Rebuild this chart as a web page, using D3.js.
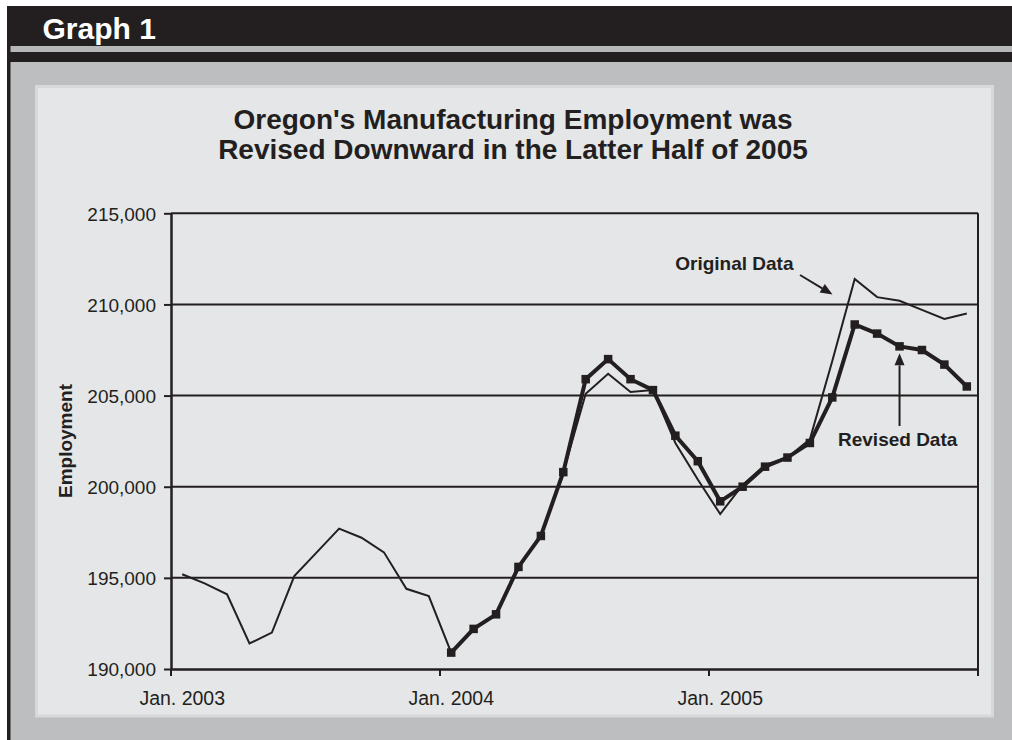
<!DOCTYPE html>
<html>
<head>
<meta charset="utf-8">
<script src="https://cdn.jsdelivr.net/npm/d3@7/dist/d3.min.js"></script>
<style>
  html, body { margin: 0; padding: 0; background: #ffffff; }
  svg { display: block; }
  text { font-family: "Liberation Sans", Arial, Helvetica, sans-serif; fill: #231f20; }
</style>
</head>
<body>
<svg id="chart" width="1012" height="740"></svg>
<script>
// Oregon manufacturing employment, monthly, Jan. 2003 – Dec. 2005
const originalData = [
  195200, 194700, 194100, 191400, 192000, 195100, 196400, 197700, 197200, 196400, 194400, 194000,
  190900, 192200, 193000, 195600, 197300, 200800, 205100, 206200, 205200, 205300, 202400, 200400,
  198500, 200100, 201200, 201600, 202600, 206900, 211400, 210400, 210200, 209700, 209200, 209500
];
// Revised series starts in Jan. 2004
const revisedStart = 12;
const revisedData = [
  190900, 192200, 193000, 195600, 197300, 200800, 205900, 207000, 205900, 205300, 202800, 201400,
  199200, 200000, 201100, 201600, 202400, 204900, 208900, 208400, 207700, 207500, 206700, 205500
];
const yTicks = [190000, 195000, 200000, 205000, 210000, 215000];
const titleLines = [
  "Oregon's Manufacturing Employment was",
  "Revised Downward in the Latter Half of 2005"
];

const ink = "#231f20";
const svg = d3.select("#chart");

// ---- page frame ----
svg.append("rect").attr("x", 7).attr("y", 6).attr("width", 1005).attr("height", 734).attr("fill", "#bdbec0");
svg.append("rect").attr("x", 7).attr("y", 6).attr("width", 1005).attr("height", 40).attr("fill", ink);
svg.append("rect").attr("x", 7).attr("y", 46).attr("width", 1005).attr("height", 6).attr("fill", "#b6b7b9");
svg.append("rect").attr("x", 7).attr("y", 52).attr("width", 1005).attr("height", 10).attr("fill", ink);
svg.append("rect").attr("x", 7).attr("y", 6).attr("width", 3.5).attr("height", 734).attr("fill", ink);
svg.append("text").attr("x", 42.5).attr("y", 39)
  .style("font-size", "30px").style("font-weight", "bold").style("fill", "#ffffff")
  .text("Graph 1");

// inner chart panel
svg.append("rect").attr("x", 36.5).attr("y", 86.5).attr("width", 956).attr("height", 629.5)
  .attr("fill", "#e5e6e7").attr("stroke", "#d7d8da").attr("stroke-width", 3);

// ---- title ----
svg.append("g").selectAll("text").data(titleLines).join("text")
  .attr("x", 513).attr("y", (d, i) => 128.5 + i * 30.8)
  .attr("text-anchor", "middle")
  .style("font-size", "28px").style("font-weight", "bold")
  .text(d => d);

// ---- scales ----
const months = d3.timeMonth.range(new Date(2003, 0, 1), new Date(2006, 0, 1));
const x = d3.scaleBand().domain(months).range([171, 978]).padding(0);
const cx = d => x(d) + x.bandwidth() / 2;
const y = d3.scaleLinear().domain([190000, 215000]).range([669, 213.3]);

const g = svg.append("g");

// horizontal gridlines
g.append("g").selectAll("line").data(yTicks.filter(v => v !== 190000)).join("line")
  .attr("x1", 171).attr("x2", 978)
  .attr("y1", d => y(d)).attr("y2", d => y(d))
  .attr("stroke", ink).attr("stroke-width", 2);

// right border of plot area
g.append("line").attr("x1", 978).attr("x2", 978).attr("y1", y(215000)).attr("y2", y(190000))
  .attr("stroke", ink).attr("stroke-width", 2);

// y axis
const yAxis = g.append("g").attr("transform", "translate(171,0)")
  .call(d3.axisLeft(y).tickValues(yTicks).tickFormat(d3.format(",")).tickSize(7).tickSizeOuter(0).tickPadding(8));
yAxis.select(".domain").attr("stroke", ink).attr("stroke-width", 2.5);
yAxis.selectAll(".tick line").attr("stroke", ink).attr("stroke-width", 2);
yAxis.selectAll(".tick text").style("font-size", "19px").attr("font-family", null).attr("dy", "0.36em").style("fill", ink);

// x axis: labels centred on January, tick marks on year boundaries
const januaries = months.filter(d => d.getMonth() === 0);
const xAxis = g.append("g").attr("transform", "translate(0,669)")
  .call(d3.axisBottom(x).tickValues(januaries).tickFormat(d => "Jan. " + d.getFullYear()).tickSize(0).tickSizeOuter(0));
xAxis.select(".domain").attr("stroke", ink).attr("stroke-width", 2.5);
xAxis.selectAll(".tick text").style("font-size", "19.5px").attr("font-family", null)
  .attr("y", 36).attr("dy", null).style("fill", ink);
const boundaries = januaries.map(d => x(d)).concat([x.range()[1]]);
xAxis.append("g").selectAll("line").data(boundaries).join("line")
  .attr("x1", d => d).attr("x2", d => d).attr("y1", 0).attr("y2", 7)
  .attr("stroke", ink).attr("stroke-width", 2);

// y axis title
svg.append("text")
  .attr("transform", "translate(71.5,441) rotate(-90)")
  .attr("text-anchor", "middle")
  .style("font-size", "19px").style("font-weight", "bold")
  .text("Employment");

// ---- series ----
const original = originalData.map((v, i) => ({ date: months[i], value: v }));
const revised = revisedData.map((v, i) => ({ date: months[revisedStart + i], value: v }));
const line = d3.line().x(d => cx(d.date)).y(d => y(d.value));

g.append("path").datum(original).attr("d", line)
  .attr("fill", "none").attr("stroke", ink).attr("stroke-width", 2).attr("stroke-linejoin", "miter");

g.append("path").datum(revised).attr("d", line)
  .attr("fill", "none").attr("stroke", ink).attr("stroke-width", 4).attr("stroke-linejoin", "miter");

const ms = 8.5;
g.append("g").selectAll("rect").data(revised).join("rect")
  .attr("x", d => cx(d.date) - ms / 2).attr("y", d => y(d.value) - ms / 2)
  .attr("width", ms).attr("height", ms).attr("fill", ink);

// ---- annotations ----
function arrow(x1, y1, x2, y2) {
  const ang = Math.atan2(y2 - y1, x2 - x1);
  const len = 12, half = 5;
  const bx = x2 - len * Math.cos(ang), by = y2 - len * Math.sin(ang);
  svg.append("line").attr("x1", x1).attr("y1", y1).attr("x2", bx).attr("y2", by)
    .attr("stroke", ink).attr("stroke-width", 2);
  svg.append("path")
    .attr("d", `M${x2},${y2}L${bx - half * Math.sin(ang)},${by + half * Math.cos(ang)}L${bx + half * Math.sin(ang)},${by - half * Math.cos(ang)}Z`)
    .attr("fill", ink);
}

svg.append("text").attr("x", 793.5).attr("y", 270).attr("text-anchor", "end")
  .style("font-size", "19px").style("font-weight", "bold").text("Original Data");
arrow(800, 275, 832.5, 294.5);

const pointed = revised[20];
svg.append("text").attr("x", 838).attr("y", 446)
  .style("font-size", "19px").style("font-weight", "bold").text("Revised Data");
arrow(cx(pointed.date), 426, cx(pointed.date), y(pointed.value) + 7);
</script>
</body>
</html>
